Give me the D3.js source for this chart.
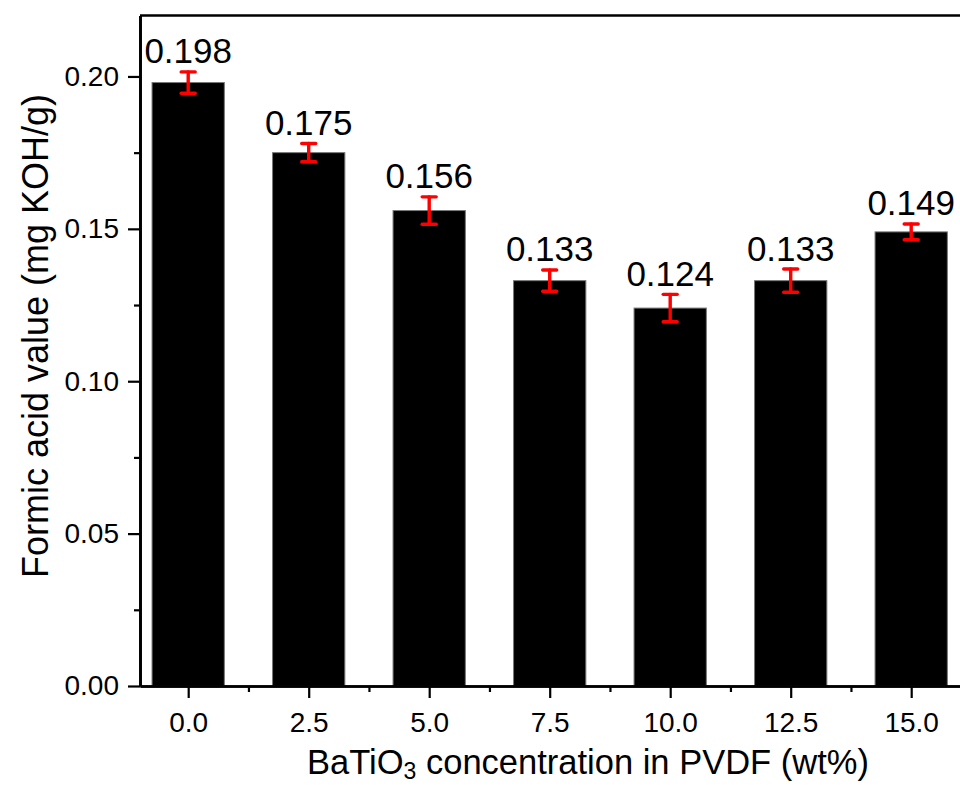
<!DOCTYPE html>
<html>
<head>
<meta charset="utf-8">
<script src="https://cdn.jsdelivr.net/npm/d3@7"></script>
<style>
  html, body { margin: 0; padding: 0; background: #fff; }
  svg { display: block; }
  text { font-family: "Liberation Sans", Arial, sans-serif; fill: #000; }
</style>
</head>
<body>
<svg id="chart" width="960" height="785"></svg>
<script>
// ---- data ----
const concentrations = [0.0, 2.5, 5.0, 7.5, 10.0, 12.5, 15.0];
const acidValues = [0.198, 0.175, 0.156, 0.133, 0.124, 0.133, 0.149];
const errors = [0.0035, 0.003, 0.0045, 0.0035, 0.0045, 0.0038, 0.0026];
const valueLabels = ["0.198", "0.175", "0.156", "0.133", "0.124", "0.133", "0.149"];
const yMajorTicks = [0.00, 0.05, 0.10, 0.15, 0.20];
const yMinorTicks = [0.025, 0.075, 0.125, 0.175];
const xMajorTicks = [0.0, 2.5, 5.0, 7.5, 10.0, 12.5, 15.0];
const xMinorTicks = [1.25, 3.75, 6.25, 8.75, 11.25, 13.75, 16.25];

const svg = d3.select("#chart");
const plotLeft = 140, plotTop = 15.5, plotBottom = 686;
const unit = 48.2;
const x = d3.scaleLinear().domain([-1, 17]).range([plotLeft, plotLeft + 18 * unit]);
const y = d3.scaleLinear().domain([0, 0.22]).range([plotBottom, plotTop]);
const barW = x(1.5) - x(0);

// bars
svg.append("g").selectAll("rect")
  .data(concentrations)
  .join("rect")
  .attr("x", (d) => x(d) - barW / 2)
  .attr("y", (d, i) => y(acidValues[i]))
  .attr("width", barW)
  .attr("height", (d, i) => y(0) - y(acidValues[i]))
  .attr("fill", "#000")
  .attr("stroke", "#777")
  .attr("stroke-width", 1);

// error bars
const eg = svg.append("g").attr("stroke", "#ff0000").attr("stroke-width", 3.4)
  .attr("stroke-linecap", "round").attr("fill", "none");
concentrations.forEach((c, i) => {
  const cx = x(c);
  const y1 = y(acidValues[i] + errors[i]);
  const y2 = y(acidValues[i] - errors[i]);
  eg.append("line").attr("x1", cx).attr("x2", cx).attr("y1", y1).attr("y2", y2);
  eg.append("line").attr("x1", cx - 7).attr("x2", cx + 7).attr("y1", y1).attr("y2", y1);
  eg.append("line").attr("x1", cx - 7).attr("x2", cx + 7).attr("y1", y2).attr("y2", y2);
});

// value labels
svg.append("g").selectAll("text")
  .data(concentrations)
  .join("text")
  .attr("x", (d) => x(d))
  .attr("y", (d, i) => y(acidValues[i] + errors[i]) - 8.5)
  .attr("text-anchor", "middle")
  .attr("font-size", 35)
  .text((d, i) => valueLabels[i]);

// axes
const yAxis = d3.axisLeft(y).tickValues(yMajorTicks).tickFormat(d3.format(".2f"))
  .tickSizeInner(12).tickSizeOuter(0).tickPadding(9);
const yMinor = d3.axisLeft(y).tickValues(yMinorTicks).tickFormat("").tickSizeInner(6).tickSizeOuter(0);
const xAxis = d3.axisBottom(x).tickValues(xMajorTicks).tickFormat(d3.format(".1f"))
  .tickSizeInner(12).tickSizeOuter(0).tickPadding(14);
const xMinor = d3.axisBottom(x).tickValues(xMinorTicks).tickFormat("").tickSizeInner(6).tickSizeOuter(0);

function styleAxis(g) {
  g.select(".domain").attr("stroke", "#000").attr("stroke-width", 2.7);
  g.selectAll(".tick line").attr("stroke", "#000").attr("stroke-width", 2.2);
  g.selectAll(".tick text").attr("font-size", 28).attr("font-family", "Liberation Sans, Arial, sans-serif").attr("fill", "#000");
}

svg.append("g").attr("transform", `translate(${plotLeft},0)`).call(yMinor).call(styleAxis);
svg.append("g").attr("transform", `translate(${plotLeft},0)`).call(yAxis).call(styleAxis);
svg.append("g").attr("transform", `translate(0,${plotBottom})`).call(xMinor).call(styleAxis);
svg.append("g").attr("transform", `translate(0,${plotBottom})`).call(xAxis).call(styleAxis);

// top and right frame lines
svg.append("line").attr("x1", plotLeft).attr("x2", x(17)).attr("y1", plotTop).attr("y2", plotTop)
  .attr("stroke", "#000").attr("stroke-width", 2.7);
svg.append("line").attr("x1", x(17)).attr("x2", x(17)).attr("y1", plotTop).attr("y2", plotBottom)
  .attr("stroke", "#000").attr("stroke-width", 2.7);

// axis titles
const xt = svg.append("text").attr("x", 588).attr("y", 774)
  .attr("text-anchor", "middle").attr("font-size", 34.5);
xt.append("tspan").text("BaTiO");
xt.append("tspan").attr("font-size", 23).attr("dy", 5).text("3");
xt.append("tspan").attr("dy", -5).text(" concentration in PVDF (wt%)");

svg.append("text")
  .attr("transform", "translate(48,336) rotate(-90)")
  .attr("text-anchor", "middle").attr("font-size", 36)
  .text("Formic acid value (mg KOH/g)");
</script>
</body>
</html>
